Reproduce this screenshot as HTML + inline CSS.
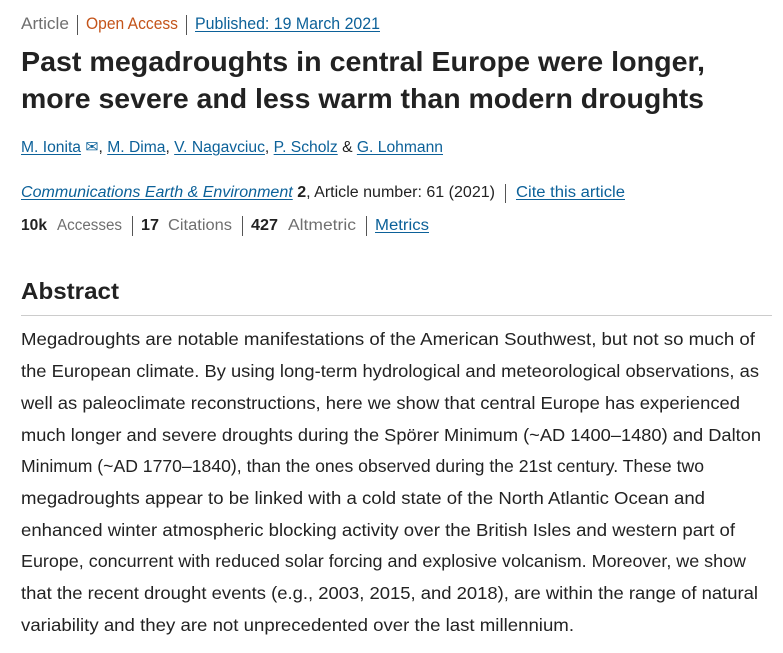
<!DOCTYPE html>
<html><head><meta charset="utf-8"><style>
html,body{margin:0;padding:0;background:#fff;width:783px;height:653px;overflow:hidden}
body{font-family:"Liberation Sans","DejaVu Sans",sans-serif;position:relative}
.t{position:absolute;white-space:nowrap;transform-origin:0 50%;line-height:1}
.g{color:#6f6f6f}.o{color:#c4541a}
a{color:#0c6199;text-decoration:underline;text-underline-offset:2px}
.b{color:#222;font-weight:bold}
.sep{position:absolute;width:1px;background:#555}
.p{font-size:17.5px;color:#222}
</style></head><body>
<div class="t g" data-w="48" style="left:21px;top:16px;font-size:16.5px">Article</div>
<div class="sep" style="left:77px;top:15px;height:20px"></div>
<div class="t o" data-w="92" style="left:86px;top:16px;font-size:16.5px">Open Access</div>
<div class="sep" style="left:186px;top:15px;height:20px"></div>
<a class="t" data-w="185" style="left:195px;top:16px;font-size:16.5px">Published: 19 March 2021</a>

<div class="t b" data-w="684" style="left:21px;top:48px;font-size:28px">Past megadroughts in central Europe were longer,</div>
<div class="t b" data-w="683" style="left:21px;top:85px;font-size:28px">more severe and less warm than modern droughts</div>

<div class="t" data-w="422" style="left:21px;top:140px;font-size:15.5px;color:#222"><a>M. Ionita</a> <span style="color:#0c6199">✉</span>, <a>M. Dima</a>, <a>V. Nagavciuc</a>, <a>P. Scholz</a> &amp; <a>G. Lohmann</a></div>

<div class="t" data-w="474" style="left:21px;top:185px;font-size:15.5px;color:#222"><a style="font-style:italic">Communications Earth &amp; Environment</a> <b>2</b>, Article number: 61 (2021)</div>
<div class="sep" style="left:505px;top:184px;height:19px"></div>
<a class="t" data-w="109" style="left:516px;top:185px;font-size:15.5px">Cite this article</a>

<div class="t b" data-w="26" style="left:21px;top:218px;font-size:15.5px">10k</div>
<div class="t g" data-w="65" style="left:57px;top:218px;font-size:15.5px">Accesses</div>
<div class="sep" style="left:132px;top:216px;height:20px"></div>
<div class="t b" data-w="18" style="left:141px;top:218px;font-size:15.5px">17</div>
<div class="t g" data-w="64" style="left:168px;top:218px;font-size:15.5px">Citations</div>
<div class="sep" style="left:242px;top:216px;height:20px"></div>
<div class="t b" data-w="27" style="left:251px;top:218px;font-size:15.5px">427</div>
<div class="t g" data-w="68" style="left:288px;top:218px;font-size:15.5px">Altmetric</div>
<div class="sep" style="left:366px;top:216px;height:20px"></div>
<a class="t" data-w="54" style="left:375px;top:218px;font-size:15.5px">Metrics</a>

<div class="t b" data-w="98" style="left:21px;top:280px;font-size:23.5px">Abstract</div>
<div style="position:absolute;left:21px;top:315px;width:751px;height:1px;background:#ccc"></div>

<div>
<div class="t p" data-w="734" style="left:21px;top:331px">Megadroughts are notable manifestations of the American Southwest, but not so much of</div>
<div class="t p" data-w="738" style="left:21px;top:363px">the European climate. By using long-term hydrological and meteorological observations, as</div>
<div class="t p" data-w="719" style="left:21px;top:395px">well as paleoclimate reconstructions, here we show that central Europe has experienced</div>
<div class="t p" data-w="740" style="left:21px;top:427px">much longer and severe droughts during the Spörer Minimum (~AD 1400–1480) and Dalton</div>
<div class="t p" data-w="683" style="left:21px;top:458px">Minimum (~AD 1770–1840), than the ones observed during the 21st century. These two</div>
<div class="t p" data-w="684" style="left:21px;top:490px">megadroughts appear to be linked with a cold state of the North Atlantic Ocean and</div>
<div class="t p" data-w="714" style="left:21px;top:522px">enhanced winter atmospheric blocking activity over the British Isles and western part of</div>
<div class="t p" data-w="725" style="left:21px;top:553px">Europe, concurrent with reduced solar forcing and explosive volcanism. Moreover, we show</div>
<div class="t p" data-w="737" style="left:21px;top:585px">that the recent drought events (e.g., 2003, 2015, and 2018), are within the range of natural</div>
<div class="t p" data-w="553" style="left:21px;top:617px">variability and they are not unprecedented over the last millennium.</div>
</div>
<script>
document.querySelectorAll('[data-w]').forEach(function(el){
  var w=parseFloat(el.getAttribute('data-w'));
  var cw=el.getBoundingClientRect().width;
  if(cw>0) el.style.transform='scaleX('+(w/cw)+')';
});
</script>
</body></html>
